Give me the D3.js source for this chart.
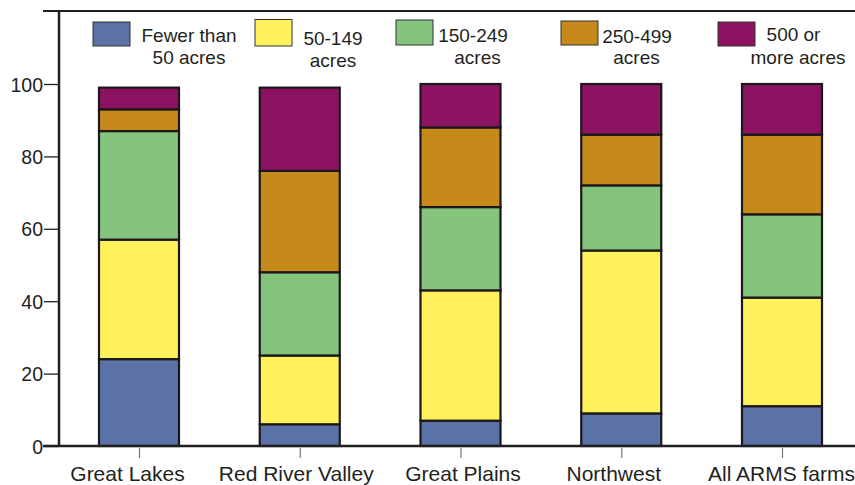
<!DOCTYPE html>
<html>
<head>
<meta charset="utf-8">
<script src="https://cdn.jsdelivr.net/npm/d3@7"></script>
<style>
  html, body { margin: 0; padding: 0; background: #fff; }
  svg { display: block; font-family: "Liberation Sans", Arial, Helvetica, sans-serif; }
</style>
</head>
<body>
<svg id="chart" width="855" height="485"></svg>
<script>
// Farm size distribution by region (percent of farms)
const regions = ["Great Lakes", "Red River Valley", "Great Plains", "Northwest", "All ARMS farms"];
const sizeClasses = ["Fewer than 50 acres", "50-149 acres", "150-249 acres", "250-499 acres", "500 or more acres"];
const legendLines = [["Fewer than", "50 acres"], ["50-149", "acres"], ["150-249", "acres"], ["250-499", "acres"], ["500 or", "more acres"]];
const under50   = [24, 6, 7, 9, 11];
const from50    = [33, 19, 36, 45, 30];
const from150   = [30, 23, 23, 18, 23];
const from250   = [6, 28, 22, 14, 22];
const over500   = [6, 23, 12, 14, 14];
const yTicks = [0, 20, 40, 60, 80, 100];
const colors = ["#5b72a6", "#fff15c", "#84c47d", "#c68a1b", "#8b1361"];

const seriesValues = [under50, from50, from150, from250, over500];
const rows = regions.map((r, i) => {
  const row = { region: r };
  sizeClasses.forEach((k, j) => row[k] = seriesValues[j][i]);
  return row;
});
const stacked = d3.stack().keys(sizeClasses)(rows);

const svg = d3.select("#chart");
const ink = "#231f20";
const plotLeft = 59, plotRight = 855, plotTop = 11, plotBottom = 446;

const x = d3.scalePoint().domain(regions).range([139, 782]);
const y = d3.scaleLinear().domain([0, 100]).range([plotBottom, 84]);
const barW = 80;
// hand-set horizontal nudges for the category labels
const labelNudge = [-12, -4, 2, -8, -1];

// top frame line
svg.append("line").attr("x1", 43).attr("x2", plotRight).attr("y1", plotTop).attr("y2", plotTop)
  .attr("stroke", ink).attr("stroke-width", 2);

// y axis
const yAxis = svg.append("g").attr("transform", `translate(${plotLeft},0)`)
  .call(d3.axisLeft(y).tickValues(yTicks).tickSize(15).tickPadding(1).tickFormat(d3.format("d")));
yAxis.select(".domain").remove();
yAxis.selectAll(".tick line").attr("stroke", ink).attr("stroke-width", 1.3);
yAxis.selectAll(".tick text").attr("fill", ink).attr("dy", "0.36em").style("font-size", "19.5px");
svg.append("line").attr("x1", plotLeft).attr("x2", plotLeft).attr("y1", plotTop).attr("y2", plotBottom + 1)
  .attr("stroke", ink).attr("stroke-width", 2.5);

// bars
const layers = svg.append("g").selectAll("g").data(stacked).join("g")
  .attr("fill", (d, i) => colors[i]);
layers.selectAll("rect").data(d => d).join("rect")
  .attr("x", d => x(d.data.region) - barW / 2)
  .attr("y", d => y(d[1]))
  .attr("width", barW)
  .attr("height", d => y(d[0]) - y(d[1]))
  .attr("stroke", "#1b171a").attr("stroke-width", 2.2);

// x axis
const xAxis = svg.append("g").attr("transform", `translate(0,${plotBottom})`)
  .call(d3.axisBottom(x).tickSize(12).tickPadding(6));
xAxis.select(".domain").remove();
xAxis.selectAll(".tick line").attr("stroke", "#777").attr("stroke-width", 1.2).attr("y1", 2);
xAxis.selectAll(".tick text").attr("fill", ink).attr("y", 35).attr("dy", null)
  .attr("x", (d, i) => labelNudge[i]).style("font-size", "21px");
svg.append("line").attr("x1", 43).attr("x2", plotRight).attr("y1", plotBottom).attr("y2", plotBottom)
  .attr("stroke", ink).attr("stroke-width", 2.5);

// legend
const legendItems = [
  { sx: 93,  sy: 22, sh: 24, tx: [189, 189], ty: [41.5, 64] },
  { sx: 255, sy: 19.5, sh: 26.5, tx: [333, 333], ty: [45, 67] },
  { sx: 396, sy: 20, sh: 25, tx: [473, 477.5], ty: [41.5, 63.5] },
  { sx: 561, sy: 21, sh: 24, tx: [637, 636.5], ty: [42.5, 64] },
  { sx: 718, sy: 22, sh: 24, tx: [793.5, 798], ty: [40.5, 63.5] }
];
const legend = svg.append("g");
legendItems.forEach((it, i) => {
  legend.append("rect").attr("x", it.sx).attr("y", it.sy).attr("width", 37).attr("height", it.sh)
    .attr("fill", colors[i]).attr("stroke", "#333").attr("stroke-width", 1);
  legendLines[i].forEach((t, k) => {
    legend.append("text").attr("x", it.tx[k]).attr("y", it.ty[k])
      .attr("text-anchor", "middle").attr("fill", ink).style("font-size", "19px").text(t);
  });
});
</script>
</body>
</html>
